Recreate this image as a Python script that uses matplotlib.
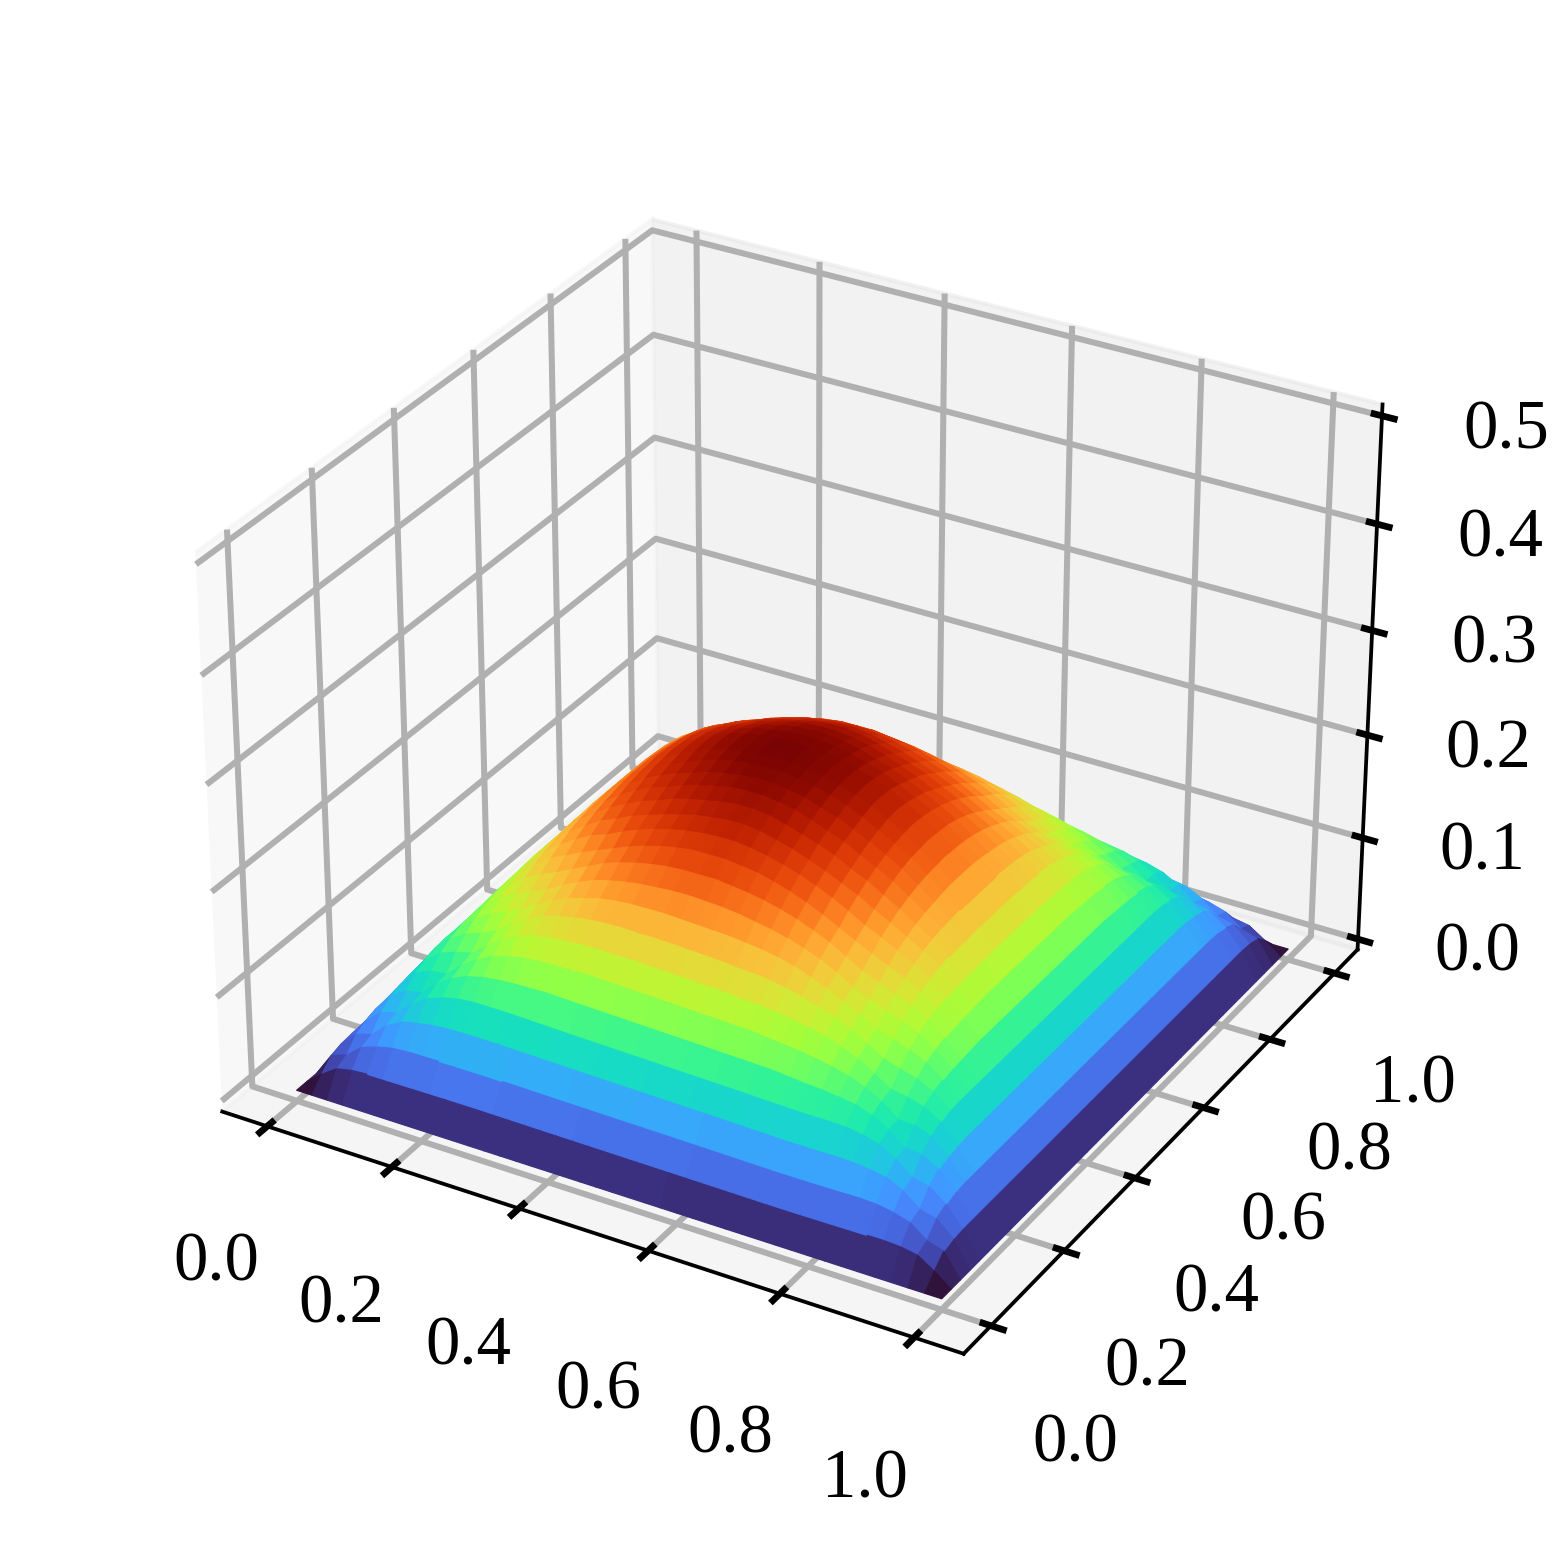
import numpy as np
import matplotlib
matplotlib.use("Agg")
import matplotlib.pyplot as plt

plt.rcParams['font.family'] = ['Liberation Serif', 'DejaVu Serif']
plt.rcParams['font.size'] = 16.5
plt.rcParams['grid.linewidth'] = 1.45
plt.rcParams['xtick.major.width'] = 1.6
plt.rcParams['ytick.major.width'] = 1.6
plt.rcParams['axes.linewidth'] = 0.9

x_ticks = [0.0, 0.2, 0.4, 0.6, 0.8, 1.0]
y_ticks = [0.0, 0.2, 0.4, 0.6, 0.8, 1.0]
z_ticks = [0.0, 0.1, 0.2, 0.3, 0.4, 0.5]

# surface height (thousandths): row i = cells from the edge,
# listing columns j = i .. 20 (mirrored in x, y and the diagonal)
rows = [
 [0]*21,
 [12,22,25]+[26]*17,
 [27,39,44,47]+[48]*15,
 [43,56,64,67,69]+[70]*13,
 [60,73,82,87,90]+[91]*12,
 [75,88,97,103,106,108,109,110]+[111]*8,
 [89,102,111,118,122,125,127,128,129]+[130]*6,
 [105,116,126,133,138,141,143,145,146,146]+[147]*4,
 [122,132,141,148,153,157,160,162,163,163,164,164,164],
 [138,147,155,162,167,172,175,177,178,179,179,179],
 [153,161,169,176,181,185,188,190,192,193,193],
 [168,176,184,190,195,199,202,204,205,206],
 [183,190,197,203,208,212,215,216,217],
 [198,205,211,216,220,223,225,226],
 [211,217,222,227,230,233,234],
 [224,229,233,237,240,241],
 [234,239,243,245,246],
 [243,247,249,250],
 [250,252,253],
 [253,254],
 [255],
]
# the dome leans slightly towards small x: height ratio read per x column
x_lean = [1.0,1.0,1.005,1.01,1.015,1.02,1.025,1.03,1.035,1.04,1.04,1.04,1.035,1.03,
          1.025,1.02,1.016,1.012,1.008,1.004,1.0,0.996,0.992,0.988,0.984,0.98,0.975,
          0.97,0.965,0.96,0.96,0.96,0.965,0.97,0.975,0.98,0.985,0.99,0.995,1.0,1.0]

q = np.zeros((21, 21))
for i, r in enumerate(rows):
    q[i, i:] = r
    q[i:, i] = r
top = np.hstack([q, q[:, -2::-1]])
Z = np.vstack([top, top[-2::-1]]) / 1000.0 * np.array(x_lean)
grid = np.linspace(0, 1, 41)
X, Y = np.meshgrid(grid, grid)

fig = plt.figure(figsize=(1562/300, 1562/300), dpi=300)
ax = fig.add_axes([0.0785, 0.0800, 0.845, 0.845], projection='3d')
surf = ax.plot_surface(X, Y, Z, cmap='turbo', rstride=1, cstride=1, linewidth=0.3)
surf.set_edgecolor('face')
ax.set_xlim(-0.073, 1.073); ax.set_ylim(-0.073, 1.073); ax.set_zlim(-0.0104, 0.5104)
ax.set_xticks(x_ticks); ax.set_yticks(y_ticks); ax.set_zticks(z_ticks)
for axis in (ax.xaxis, ax.yaxis, ax.zaxis):
    axis._axinfo['tick']['inward_factor'] = 0.2
    axis._axinfo['tick']['outward_factor'] = 0.13
ax.tick_params(axis='x', pad=10.5)
ax.tick_params(axis='y', pad=10)
ax.tick_params(axis='z', pad=10)
fig.savefig('out.png', dpi=300)
